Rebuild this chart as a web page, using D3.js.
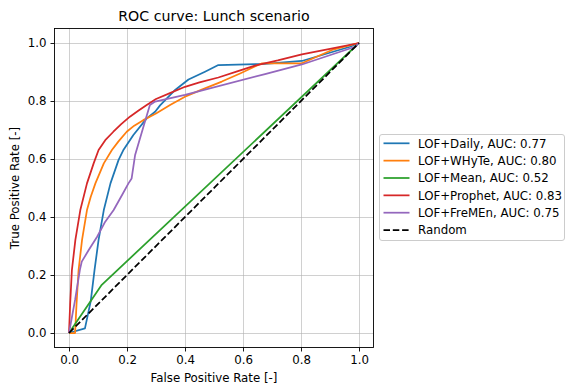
<!DOCTYPE html>
<html>
<head>
	<title>ROC curve: Lunch scenario</title>
	<script src="https://d3js.org/d3.v7.min.js"></script>
</head>
<style>
	body{
		margin:0;
		background-color:#fff;
		font-family: 'DejaVu Sans', sans-serif;
	}
	.grid line{
		stroke:#b0b0b0;
		stroke-opacity:0.6;
	}
</style>
<body>
<div class="screen"></div>
<script>

//DATA

var seriesNames = ["LOF+Daily", "LOF+WHyTe", "LOF+Mean", "LOF+Prophet", "LOF+FreMEn"];
var aucValues = ["0.77", "0.80", "0.52", "0.83", "0.75"];
var colors = ["#1f77b4", "#ff7f0e", "#2ca02c", "#d62728", "#9467bd"];

var dailyFpr = [0, 0.055, 0.075, 0.088, 0.102, 0.12, 0.143, 0.171, 0.187, 0.222, 0.268, 0.297, 0.314, 0.366, 0.412, 0.469, 0.515, 0.676, 0.803, 0.969, 1];
var dailyTpr = [0, 0.016, 0.11, 0.217, 0.321, 0.424, 0.516, 0.597, 0.63, 0.683, 0.74, 0.763, 0.785, 0.838, 0.874, 0.901, 0.924, 0.928, 0.938, 0.987, 1];

var whyteFpr = [0, 0.021, 0.026, 0.033, 0.045, 0.062, 0.075, 0.091, 0.12, 0.148, 0.17, 0.199, 0.225, 0.256, 0.3, 0.35, 0.4, 0.46, 0.527, 0.59, 0.641, 0.666, 0.803, 0.907, 1];
var whyteTpr = [0, 0, 0.1, 0.217, 0.321, 0.424, 0.47, 0.516, 0.585, 0.631, 0.66, 0.694, 0.715, 0.734, 0.757, 0.787, 0.815, 0.84, 0.867, 0.895, 0.919, 0.93, 0.93, 0.976, 1];

var meanFpr = [0, 0.113, 1];
var meanTpr = [0, 0.166, 1];

var prophetFpr = [0, 0.004, 0.010, 0.022, 0.039, 0.062, 0.085, 0.102, 0.125, 0.153, 0.18, 0.21, 0.24, 0.268, 0.3, 0.35, 0.4, 0.45, 0.515, 0.58, 0.641, 0.72, 0.803, 0.9, 1];
var prophetTpr = [0, 0.1, 0.217, 0.321, 0.424, 0.516, 0.585, 0.631, 0.665, 0.694, 0.72, 0.746, 0.767, 0.786, 0.807, 0.828, 0.849, 0.864, 0.881, 0.902, 0.922, 0.94, 0.961, 0.98, 1];

var fremenFpr = [0, 0.021, 0.038, 0.044, 0.068, 0.097, 0.125, 0.154, 0.183, 0.205, 0.216, 0.228, 0.262, 0.279, 0.297, 0.4, 0.676, 0.803, 0.987, 1];
var fremenTpr = [0, 0.114, 0.22, 0.246, 0.286, 0.332, 0.384, 0.424, 0.476, 0.516, 0.533, 0.614, 0.729, 0.786, 0.798, 0.821, 0.893, 0.926, 0.987, 1];

var randomFpr = [0, 1];
var randomTpr = [0, 1];

var ticks = [0, 0.2, 0.4, 0.6, 0.8, 1.0];

//SETUP

var width = 565;
var height = 385;
var margin = {left:54.5, right:191.5, top:28.5, bottom:37.5};
var fs = 11.8;

var svg = d3.select(".screen")
	.append("svg")
	.attr("width", width)
	.attr("height", height);

var x = d3.scaleLinear()
	.domain([-0.05, 1.05])
	.range([margin.left, width - margin.right]);

var y = d3.scaleLinear()
	.domain([-0.05, 1.05])
	.range([height - margin.bottom, margin.top]);

//GRID

svg.append("g")
	.attr("class", "grid")
	.attr("transform", "translate(0," + (height - margin.bottom) + ")")
	.call(d3.axisBottom(x).tickValues(ticks).tickSize(-(height - margin.bottom - margin.top)).tickFormat(""))
	.call(function(g){ g.select(".domain").remove(); });

svg.append("g")
	.attr("class", "grid")
	.attr("transform", "translate(" + margin.left + ",0)")
	.call(d3.axisLeft(y).tickValues(ticks).tickSize(-(width - margin.right - margin.left)).tickFormat(""))
	.call(function(g){ g.select(".domain").remove(); });

//CURVES

var series = [
	{fpr:dailyFpr, tpr:dailyTpr, color:colors[0], dash:null},
	{fpr:whyteFpr, tpr:whyteTpr, color:colors[1], dash:null},
	{fpr:meanFpr, tpr:meanTpr, color:colors[2], dash:null},
	{fpr:prophetFpr, tpr:prophetTpr, color:colors[3], dash:null},
	{fpr:fremenFpr, tpr:fremenTpr, color:colors[4], dash:null},
	{fpr:randomFpr, tpr:randomTpr, color:"#000", dash:"6.5,2.8"}
];

var line = d3.line()
	.x(function(d){ return x(d[0]); })
	.y(function(d){ return y(d[1]); });

svg.append("g").selectAll("path")
	.data(series)
	.enter()
	.append("path")
	.attr("fill", "none")
	.attr("stroke", function(d){ return d.color; })
	.attr("stroke-width", 1.75)
	.attr("stroke-dasharray", function(d){ return d.dash; })
	.attr("stroke-linejoin", "round")
	.attr("d", function(d){ return line(d3.zip(d.fpr, d.tpr)); });

//AXES

var xAxis = svg.append("g")
	.attr("transform", "translate(0," + (height - margin.bottom) + ")")
	.call(d3.axisBottom(x).tickValues(ticks).tickSize(4).tickPadding(4).tickFormat(d3.format(".1f")));

var yAxis = svg.append("g")
	.attr("transform", "translate(" + margin.left + ",0)")
	.call(d3.axisLeft(y).tickValues(ticks).tickSize(4).tickPadding(4).tickFormat(d3.format(".1f")));

[xAxis, yAxis].forEach(function(g){
	g.selectAll("text").attr("font-size", fs).attr("font-family", "DejaVu Sans").attr("fill", "#000");
	g.selectAll("line").attr("stroke", "#000").attr("stroke-width", 0.9);
	g.select(".domain").remove();
});

svg.append("rect")
	.attr("x", margin.left)
	.attr("y", margin.top)
	.attr("width", width - margin.right - margin.left)
	.attr("height", height - margin.bottom - margin.top)
	.attr("fill", "none")
	.attr("stroke", "#000")
	.attr("stroke-width", 0.9);

//TITLES

svg.append("text")
	.attr("x", (margin.left + width - margin.right) / 2)
	.attr("y", margin.top - 7.5)
	.attr("text-anchor", "middle")
	.attr("font-size", 14.2)
	.attr("font-family", "DejaVu Sans")
	.text("ROC curve: Lunch scenario");

svg.append("text")
	.attr("x", (margin.left + width - margin.right) / 2)
	.attr("y", height - 3)
	.attr("text-anchor", "middle")
	.attr("font-size", fs)
	.attr("font-family", "DejaVu Sans")
	.text("False Positive Rate [-]");

svg.append("text")
	.attr("transform", "translate(19," + ((margin.top + height - margin.bottom) / 2) + ") rotate(-90)")
	.attr("text-anchor", "middle")
	.attr("font-size", fs)
	.attr("font-family", "DejaVu Sans")
	.text("True Positive Rate [-]");

//LEGEND

var legendLabels = seriesNames.map(function(n, i){ return n + ", AUC: " + aucValues[i]; }).concat(["Random"]);

var legend = svg.append("g")
	.attr("transform", "translate(379.5,134.5)");

legend.append("rect")
	.attr("width", 185)
	.attr("height", 106)
	.attr("rx", 2.5)
	.attr("fill", "#fff")
	.attr("fill-opacity", 0.8)
	.attr("stroke", "#ccc")
	.attr("stroke-width", 1);

var items = legend.selectAll(".item")
	.data(series)
	.enter()
	.append("g")
	.attr("class", "item")
	.attr("transform", function(d, i){ return "translate(0," + (8.8 + i * 17.35) + ")"; });

items.append("line")
	.attr("x1", 4)
	.attr("x2", 30)
	.attr("stroke", function(d){ return d.color; })
	.attr("stroke-width", 1.75)
	.attr("stroke-dasharray", function(d){ return d.dash; });

items.append("text")
	.attr("x", 38.5)
	.attr("y", 4.2)
	.attr("font-size", fs)
	.attr("font-family", "DejaVu Sans")
	.text(function(d, i){ return legendLabels[i]; });

</script>
</body>
</html>
